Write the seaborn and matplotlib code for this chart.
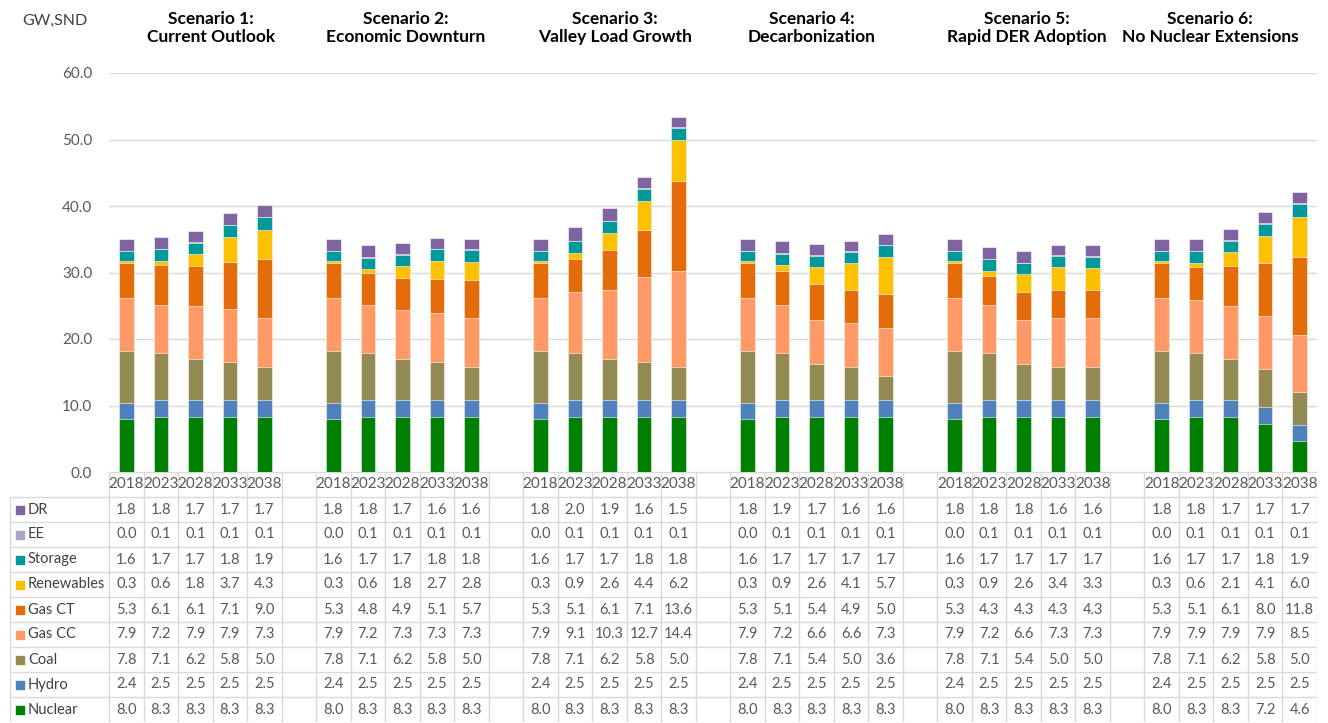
import pandas as pd
import seaborn as sns
import matplotlib.pyplot as plt
import matplotlib.transforms as mtransforms

years = ["2018", "2023", "2028", "2033", "2038"]
scenarios = ["Scenario 1:\nCurrent Outlook", "Scenario 2:\nEconomic Downturn",
             "Scenario 3:\nValley Load Growth", "Scenario 4:\nDecarbonization",
             "Scenario 5:\nRapid DER Adoption", "Scenario 6:\nNo Nuclear Extensions"]

nuclear = [8.0, 8.3, 8.3, 8.3, 8.3,  8.0, 8.3, 8.3, 8.3, 8.3,  8.0, 8.3, 8.3, 8.3, 8.3,
           8.0, 8.3, 8.3, 8.3, 8.3,  8.0, 8.3, 8.3, 8.3, 8.3,  8.0, 8.3, 8.3, 7.2, 4.6]
hydro = [2.4, 2.5, 2.5, 2.5, 2.5] * 6
coal = [7.8, 7.1, 6.2, 5.8, 5.0,  7.8, 7.1, 6.2, 5.8, 5.0,  7.8, 7.1, 6.2, 5.8, 5.0,
        7.8, 7.1, 5.4, 5.0, 3.6,  7.8, 7.1, 5.4, 5.0, 5.0,  7.8, 7.1, 6.2, 5.8, 5.0]
gas_cc = [7.9, 7.2, 7.9, 7.9, 7.3,  7.9, 7.2, 7.3, 7.3, 7.3,  7.9, 9.1, 10.3, 12.7, 14.4,
          7.9, 7.2, 6.6, 6.6, 7.3,  7.9, 7.2, 6.6, 7.3, 7.3,  7.9, 7.9, 7.9, 7.9, 8.5]
gas_ct = [5.3, 6.1, 6.1, 7.1, 9.0,  5.3, 4.8, 4.9, 5.1, 5.7,  5.3, 5.1, 6.1, 7.1, 13.6,
          5.3, 5.1, 5.4, 4.9, 5.0,  5.3, 4.3, 4.3, 4.3, 4.3,  5.3, 5.1, 6.1, 8.0, 11.8]
renewables = [0.3, 0.6, 1.8, 3.7, 4.3,  0.3, 0.6, 1.8, 2.7, 2.8,  0.3, 0.9, 2.6, 4.4, 6.2,
              0.3, 0.9, 2.6, 4.1, 5.7,  0.3, 0.9, 2.6, 3.4, 3.3,  0.3, 0.6, 2.1, 4.1, 6.0]
storage = [1.6, 1.7, 1.7, 1.8, 1.9,  1.6, 1.7, 1.7, 1.8, 1.8,  1.6, 1.7, 1.7, 1.8, 1.8,
           1.6, 1.7, 1.7, 1.7, 1.7,  1.6, 1.7, 1.7, 1.7, 1.7,  1.6, 1.7, 1.7, 1.8, 1.9]
ee = [0.0, 0.1, 0.1, 0.1, 0.1] * 6
dr = [1.8, 1.8, 1.7, 1.7, 1.7,  1.8, 1.8, 1.7, 1.6, 1.6,  1.8, 2.0, 1.9, 1.6, 1.5,
      1.8, 1.9, 1.7, 1.6, 1.6,  1.8, 1.8, 1.8, 1.6, 1.6,  1.8, 1.8, 1.7, 1.7, 1.7]

# bottom -> top stacking order
sources = ["Nuclear", "Hydro", "Coal", "Gas CC", "Gas CT", "Renewables", "Storage", "EE", "DR"]
values = [nuclear, hydro, coal, gas_cc, gas_ct, renewables, storage, ee, dr]
colors = ["#008000", "#4F81BD", "#948A54", "#FF9966", "#E46C0A",
          "#FFC000", "#009999", "#B3A2C7", "#8064A2"]

# 2. Category slots: 5 years per scenario, blank slot between scenarios
slots = []
for g in range(len(scenarios)):
    slots += [f"S{g+1}-{y}" for y in years]
    if g < len(scenarios) - 1:
        slots.append(f"gap{g+1}")
bar_slots = [s for s in slots if not s.startswith("gap")]

rows = []
for src, vals in zip(sources, values):
    for slot, v in zip(bar_slots, vals):
        rows.append({"slot": slot, "source": src, "value": v})
df = pd.DataFrame(rows)
df["top"] = df.groupby("slot")["value"].cumsum()

# 3. Figure
sns.set_style("white")
plt.rcParams["font.family"] = ["Lato", "DejaVu Sans"]
fig = plt.figure(figsize=(13.28, 7.23), dpi=100)
W, H = 1328, 723
x0, x1 = 109, 1317
y_top, y_zero, y_bot = 73, 472, 722
ax = fig.add_axes([x0 / W, (H - y_zero) / H, (x1 - x0) / W, (y_zero - y_top) / H])

# draw cumulative bars from top of stack down so lower segments overlay
for src, col in reversed(list(zip(sources, colors))):
    sns.barplot(data=df[df["source"] == src], x="slot", y="top", order=slots,
                color=col, width=0.42, errorbar=None, saturation=1,
                edgecolor="white", linewidth=0.4, ax=ax)

ax.set_xlim(-0.5, len(slots) - 0.5)
ax.set_ylim(0, 60)
ax.set_yticks(range(0, 61, 10))
ax.set_yticklabels([f"{t:.1f}" for t in range(0, 61, 10)], color="#595959", fontsize=11)
ax.tick_params(axis="y", length=0, pad=12)
ax.set_xticks([])
ax.set_xlabel("")
ax.set_ylabel("")
ax.yaxis.grid(True, color="#D9D9D9", linewidth=1)
ax.set_axisbelow(True)
for sp in ax.spines.values():
    sp.set_visible(False)

# scenario titles (hand-placed text boxes in the original) and unit label
title_shift = [0.45, 0.1, 0.15, -0.15, 0.1, -0.6]
trans = mtransforms.blended_transform_factory(ax.transData, fig.transFigure)
for g, name in enumerate(scenarios):
    ax.text(g * 6 + 2 + title_shift[g], 1 - 28 / H, name, transform=trans, ha="center",
            va="center", fontsize=12.5, fontweight="bold", color="black", linespacing=1.1)
fig.text(55 / W, 1 - 21 / H, "GW,SND", ha="center", va="center", fontsize=11.5, color="#404040")

# 4. Data table below the plot
legw = (x0 - 10) / ((x1 - x0) / len(slots))
axt = fig.add_axes([10 / W, (H - y_bot) / H, (x1 - 10) / W, (y_bot - y_zero) / H])
axt.set_xlim(-0.5 - legw, len(slots) - 0.5)
axt.set_ylim(10, 0)
axt.axis("off")
gc = "#D9D9D9"
# horizontal lines
axt.plot([-0.5, len(slots) - 0.5], [0, 0], color=gc, lw=1)
for r in range(1, 11):
    axt.plot([-0.5 - legw, len(slots) - 0.5], [r, r], color=gc, lw=1)
# vertical lines
axt.plot([-0.5 - legw] * 2, [1, 10], color=gc, lw=1)
for j in range(len(slots) + 1):
    axt.plot([j - 0.5] * 2, [0, 10], color=gc, lw=1)

for j, slot in enumerate(slots):
    if slot.startswith("gap"):
        continue
    axt.text(j, 0.5, slot.split("-")[1], ha="center", va="center", fontsize=11, color="#595959")

table_order = list(reversed(list(zip(sources, values, colors))))
for r, (src, vals, col) in enumerate(table_order, start=1):
    axt.scatter(-0.5 - legw + 0.28, r + 0.5, marker="s", s=40, color=col, clip_on=False)
    axt.text(-0.5 - legw + 0.52, r + 0.5, src, ha="left", va="center", fontsize=10.5, color="#404040")
    for slot, v in zip(bar_slots, vals):
        axt.text(slots.index(slot), r + 0.5, f"{v:.1f}", ha="center", va="center",
                 fontsize=10.5, color="#595959")

fig.savefig("out.png", dpi=100)
